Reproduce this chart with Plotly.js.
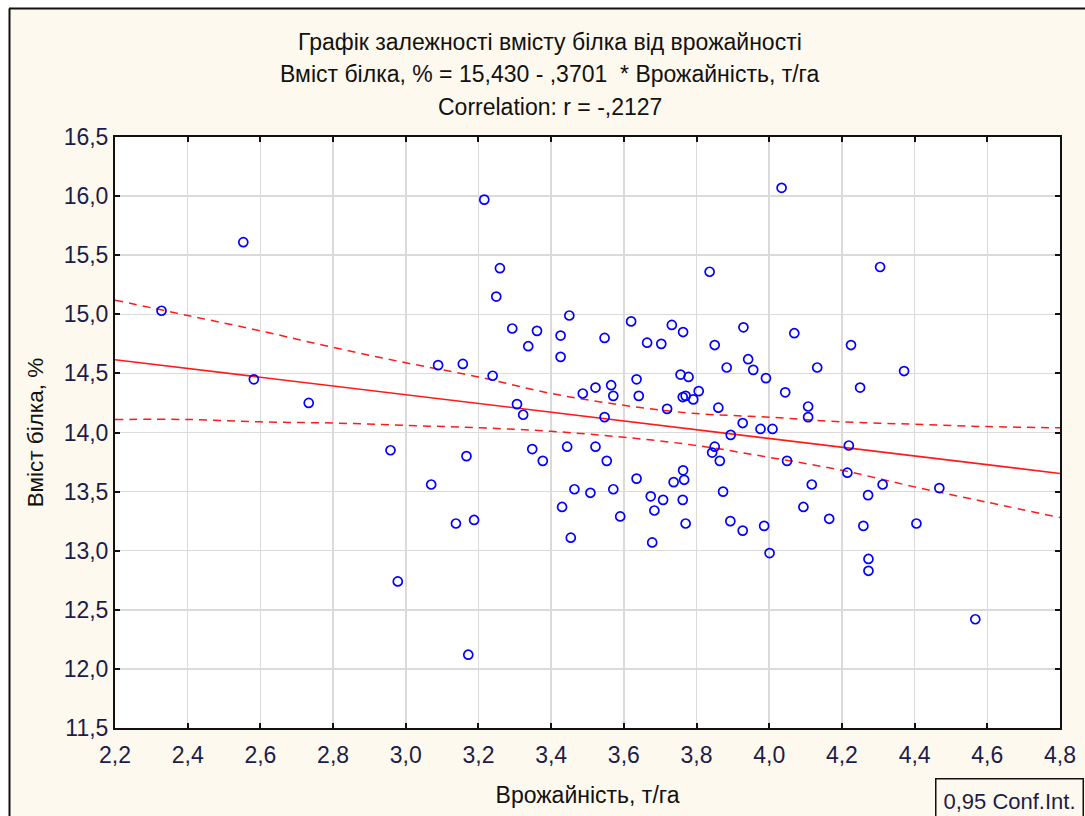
<!DOCTYPE html>
<html>
<head>
<meta charset="utf-8">
<script src="https://cdn.plot.ly/plotly-3.0.1.min.js"></script>
<style>html,body{margin:0;padding:0;background:#fff;}#chart{width:1085px;height:816px;}</style>
</head>
<body>
<div id="chart"></div>
<script>
// Scatter data: yield (t/ha) vs protein content (%)
const yieldX = [2.328,2.553,2.582,2.733,2.958,2.978,3.070,3.089,3.138,3.157,3.167,3.172,3.188,3.216,3.239,3.249,3.259,3.293,3.306,3.323,3.337,3.348,3.361,3.377,3.426,3.426,3.430,3.444,3.450,3.454,3.464,3.487,3.508,3.522,3.522,3.547,3.547,3.553,3.565,3.571,3.571,3.590,3.620,3.635,3.635,3.641,3.664,3.674,3.678,3.684,3.703,3.708,3.719,3.732,3.737,3.756,3.762,3.770,3.762,3.763,3.763,3.766,3.770,3.778,3.791,3.806,3.836,3.843,3.850,3.850,3.860,3.864,3.873,3.883,3.893,3.894,3.927,3.927,3.929,3.942,3.956,3.976,3.986,3.991,4.001,4.009,4.034,4.044,4.049,4.069,4.094,4.107,4.107,4.117,4.132,4.165,4.215,4.219,4.225,4.250,4.259,4.272,4.273,4.273,4.305,4.312,4.371,4.405,4.468,4.567];
const proteinY = [15.03,15.61,14.45,14.25,13.85,12.74,13.56,14.57,13.23,14.58,13.80,12.12,13.26,15.97,14.48,15.15,15.39,14.88,14.24,14.15,14.73,13.86,14.86,13.76,14.82,14.64,13.37,13.88,14.99,13.11,13.52,14.33,13.49,14.38,13.88,14.80,14.13,13.76,14.40,14.31,13.52,13.29,14.94,14.45,13.61,14.31,14.76,13.46,13.07,13.34,14.75,13.43,14.20,14.91,13.58,14.49,14.30,14.31,13.43,14.85,13.68,13.60,13.23,14.47,14.28,14.35,15.36,13.83,14.74,13.88,14.21,13.76,13.50,14.55,13.25,13.98,14.08,13.17,14.89,14.62,14.53,14.03,13.21,14.46,12.98,14.03,16.07,14.34,13.76,14.84,13.37,14.22,14.13,13.56,14.55,13.27,13.66,13.89,14.74,14.38,13.21,13.47,12.93,12.83,15.40,13.56,14.52,13.23,13.53,12.42];

// Regression (from the chart title)
const intercept = 15.430;
const slope = -0.3701;
const lineX = [2.2, 4.8];

// 95% confidence band
const bandX     = [2.2, 2.4, 2.6, 2.8, 3.0, 3.2, 3.4, 3.6, 3.8, 4.0, 4.2, 4.4, 4.6, 4.8];
const bandUpper = [15.12,14.99,14.86,14.72,14.59,14.47,14.33,14.23,14.16,14.13,14.09,14.07,14.05,14.04];
const bandLower = [14.11,14.11,14.09,14.08,14.06,14.04,14.01,13.96,13.89,13.79,13.68,13.54,13.41,13.28];

const xTicks = [2.2,2.4,2.6,2.8,3.0,3.2,3.4,3.6,3.8,4.0,4.2,4.4,4.6,4.8];
const yTicks = [11.5,12.0,12.5,13.0,13.5,14.0,14.5,15.0,15.5,16.0,16.5];

const titleLines = [
  'Графік залежності вмісту білка від врожайності',
  'Вміст білка, % = 15,430 - ,3701  * Врожайність, т/га',
  'Correlation: r = -,2127'
];
const xTitle = 'Врожайність, т/га';
const yTitle = 'Вміст білка, %';
const legendText = '0,95 Conf.Int.';

const W = 1085, H = 816;
const M = {l:115, r:25, t:137, b:88};
const pw = W - M.l - M.r, ph = H - M.t - M.b;
const px = v => (v - M.l) / pw;          // pixel x -> paper x
const py = v => (H - M.b - v) / ph;      // pixel y -> paper y

const red = '#ff1a1a';
const traces = [
  {x: lineX, y: lineX.map(v => intercept + slope * v), mode: 'lines', type: 'scatter',
   line: {color: red, width: 1.6}, hoverinfo: 'skip', showlegend: false},
  {x: bandX, y: bandUpper, mode: 'lines', type: 'scatter', line: {color: red, width: 1.5, dash: '8px,6px', shape: 'spline'}, showlegend: false},
  {x: bandX, y: bandLower, mode: 'lines', type: 'scatter', line: {color: red, width: 1.5, dash: '8px,6px', shape: 'spline'}, showlegend: false},
  {x: yieldX, y: proteinY, mode: 'markers', type: 'scatter',
   marker: {symbol: 'circle-open', size: 9, color: '#0000ff', line: {width: 1.7, color: '#0000ff'}}, showlegend: false}
];

const font = 'Liberation Sans, Arial, sans-serif';
const tickColor = '#1c1c4a';
const titleAnn = titleLines.map((t, i) => ({
  text: t, xref: 'paper', yref: 'paper', x: px(550), y: py([42, 74, 107][i]),
  xanchor: 'center', yanchor: 'middle', showarrow: false,
  font: {family: font, size: 23, color: '#111'}
}));

const layout = {
  width: W, height: H,
  margin: {l: M.l, r: M.r, t: M.t, b: M.b, pad: 0},
  paper_bgcolor: '#fef9ee',
  plot_bgcolor: '#ffffff',
  separators: ', ',
  font: {family: font, color: tickColor},
  showlegend: false,
  xaxis: {
    range: [2.2, 4.8], tickvals: xTicks, tickformat: '.1f',
    showgrid: true, gridcolor: '#dadada', gridwidth: 1.5,
    zeroline: false, showline: true, linecolor: '#111', linewidth: 2, mirror: 'ticks',
    ticks: 'inside', ticklen: 5, tickwidth: 2, tickcolor: '#111',
    ticklabelstandoff: 5,
    tickfont: {size: 23, color: tickColor, family: font},
    title: {text: xTitle, font: {size: 23, color: '#111', family: font}, standoff: 20}
  },
  yaxis: {
    range: [11.5, 16.5], tickvals: yTicks, tickformat: '.1f',
    showgrid: true, gridcolor: '#dadada', gridwidth: 1.5,
    zeroline: false, showline: true, linecolor: '#111', linewidth: 2, mirror: 'ticks',
    ticks: 'inside', ticklen: 5, tickwidth: 2, tickcolor: '#111',
    tickfont: {size: 23, color: tickColor, family: font},
    title: {text: yTitle, font: {size: 22.5, color: '#111', family: font}, standoff: 14}
  },
  annotations: titleAnn.concat([
    {text: legendText, xref: 'paper', yref: 'paper', x: px(935), y: py(778),
     xanchor: 'left', yanchor: 'top', showarrow: false, align: 'center',
     width: 142, height: 40, borderpad: 2, bordercolor: '#111', borderwidth: 1.5, bgcolor: '#fef9ee',
     font: {size: 22, color: tickColor, family: font}}
  ]),
  shapes: [
    {type: 'rect', xref: 'paper', yref: 'paper', x0: px(0), x1: px(W), y0: py(8), y1: py(0), fillcolor: '#ffffff', line: {width: 0}, layer: 'above'},
    {type: 'rect', xref: 'paper', yref: 'paper', x0: px(0), x1: px(9), y0: py(H), y1: py(0), fillcolor: '#ffffff', line: {width: 0}, layer: 'above'},
    {type: 'line', xref: 'paper', yref: 'paper', x0: px(9), x1: px(W), y0: py(8.5), y1: py(8.5), line: {color: '#111', width: 2}, layer: 'above'},
    {type: 'line', xref: 'paper', yref: 'paper', x0: px(9.5), x1: px(9.5), y0: py(8.5), y1: py(H), line: {color: '#111', width: 2}, layer: 'above'}
  ]
};

Plotly.newPlot('chart', traces, layout, {staticPlot: true, displayModeBar: false});
</script>
</body>
</html>
